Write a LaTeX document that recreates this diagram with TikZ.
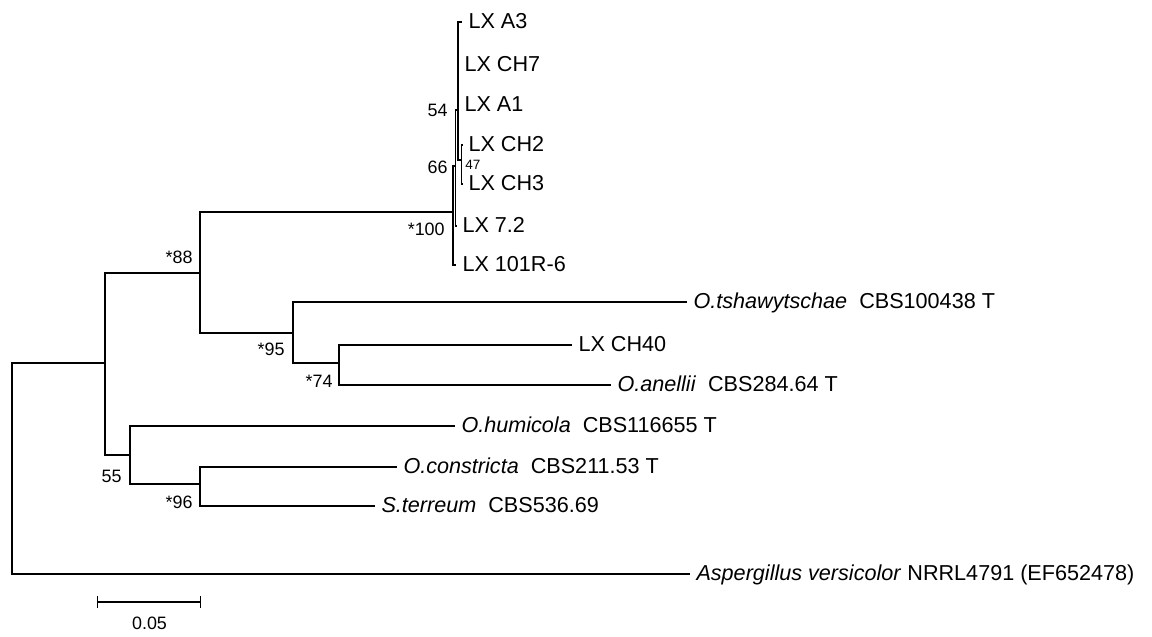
\documentclass[tikz,border=0pt]{standalone}
\usepackage{fontspec}
\setmainfont{Liberation Sans}
\usetikzlibrary{arrows.meta}
\tikzset{
  branch/.style={line width=0.85pt},
  taxon/.style={anchor=west,inner xsep=3.5pt,inner ysep=0pt,text height=0.72em,text depth=0pt,
    yshift=-1pt,font=\fontsize{12.3}{14}\selectfont},
  boot/.style={anchor=east,inner sep=0pt,text height=0.72em,text depth=0pt,
    font=\fontsize{10.2}{12}\selectfont},
}

\begin{document}
\begin{tikzpicture}[x=0.02cm,y=-0.02cm]
  \useasboundingbox (0,0) rectangle (1152,636);
  \coordinate (root) at (12,467);
  \coordinate (nA) at (105,363);
  \coordinate (n88) at (200,273);
  \coordinate (n100) at (453,212);
  \coordinate (n66) at (455.5,166);
  \coordinate (n54) at (458,110);
  \coordinate (n47) at (461.5,160);
  \coordinate (n95) at (293,333);
  \coordinate (n74) at (339,363);
  \coordinate (n55) at (130,455);
  \coordinate (n96) at (200,484);

  \node[taxon] (lxa3) at (462,20) {LX A3};
  \node[taxon] (lxch7) at (458,63) {LX CH7};
  \node[taxon] (lxa1) at (458,103) {LX A1};
  \node[taxon] (lxch2) at (462,143) {LX CH2};
  \node[taxon] (lxch3) at (462,182) {LX CH3};
  \node[taxon] (lx72) at (456,224) {LX 7.2};
  \node[taxon] (lx101) at (456,263) {LX 101R-6};
  \node[taxon] (tshaw) at (687,300) {\textit{O.tshawytschae}\ \ CBS100438 T};
  \node[taxon] (lxch40) at (572,343) {LX CH40};
  \node[taxon] (anell) at (611,383) {\textit{O.anellii}\ \ CBS284.64 T};
  \node[taxon] (humic) at (455,424) {\textit{O.humicola}\ \ CBS116655 T};
  \node[taxon] (constr) at (397,465) {\textit{O.constricta}\ \ CBS211.53 T};
  \node[taxon] (terr) at (375,504) {\textit{S.terreum}\ \ CBS536.69};
  \node[taxon] (asperg) at (690,572) {\textit{Aspergillus versicolor} NRRL4791 (EF652478)};

  \draw[branch] (root) |- (nA);
  \draw[branch] (root) |- (asperg.west);
  \draw[branch] (nA) |- (n88);
  \draw[branch] (nA) |- (n55);
  \draw[branch] (n88) |- (n100);
  \draw[branch] (n88) |- (n95);
  \draw[branch] (n100) |- (n66);
  \draw[branch] (n100) |- (lx101.west);
  \draw[branch] (n66) |- (n54);
  \draw[branch] (n66) |- (lx72.west);
  \draw[branch] (n54) |- (lxa3.west);
  \draw[branch] (n54) |- (lxch7.west);
  \draw[branch] (n54) |- (lxa1.west);
  \draw[branch] (n54) |- (n47);
  \draw[branch] (n47) |- (lxch2.west);
  \draw[branch] (n47) |- (lxch3.west);
  \draw[branch] (n95) |- (tshaw.west);
  \draw[branch] (n95) |- (n74);
  \draw[branch] (n74) |- (lxch40.west);
  \draw[branch] (n74) |- (anell.west);
  \draw[branch] (n55) |- (humic.west);
  \draw[branch] (n55) |- (n96);
  \draw[branch] (n96) |- (constr.west);
  \draw[branch] (n96) |- (terr.west);

  \node[boot] (b88) at (193,257) {*88};
  \node[boot] (b100) at (445,229) {*100};
  \node[boot] (b66) at (448,167) {66};
  \node[boot] (b54) at (448,110) {54};
  \node[boot,anchor=west,font=\fontsize{7.7}{9}\selectfont] (b47) at (465,163) {47};
  \node[boot] (b95) at (285,349) {*95};
  \node[boot] (b74) at (333,381) {*74};
  \node[boot] (b55) at (122,476) {55};
  \node[boot] (b96) at (193,502) {*96};

  \coordinate (sb0) at (97,602);
  \coordinate (sb1) at (201,602);
  \draw[branch,{Bar[width=7pt]}-{Bar[width=7pt]}] (sb0) -- (sb1);
  \node[boot,anchor=center] (sblbl) at (149.5,623) {0.05};
\end{tikzpicture}
\end{document}
